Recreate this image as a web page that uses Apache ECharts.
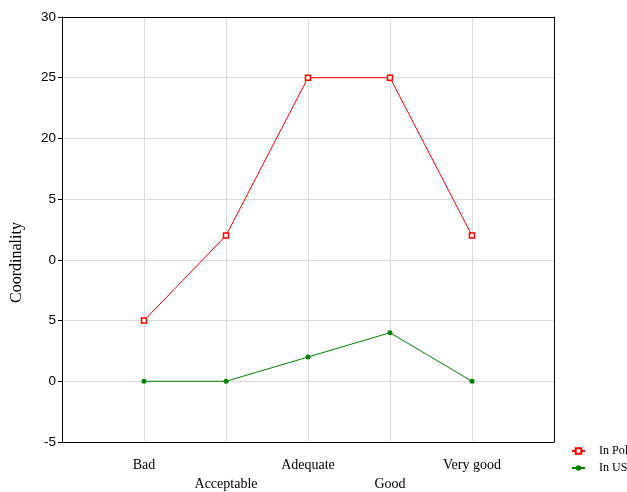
<!DOCTYPE html>
<html>
<head>
<meta charset="utf-8">
<script src="https://cdn.jsdelivr.net/npm/echarts@6/dist/echarts.min.js"></script>
<style>
  html, body { margin: 0; padding: 0; background: #fff; }
  #main { width: 627px; height: 492px; }
</style>
</head>
<body>
<div id="main"></div>
<script>
// categories along the x axis
const categories = ['Bad', 'Acceptable', 'Adequate', 'Good', 'Very good']
// series values
const polandValues = [5, 12, 25, 25, 12]
const usValues = [0, 0, 2, 4, 0]
// y tick labels as printed on the original (from -5 up to 30)
const yTickLabels = ['-5', '0', '5', '0', '5', '20', '25', '30']

const toPoints = vals => vals.map((v, i) => [i + 1, v])

let myChart = echarts.init(document.getElementById('main'))
myChart.setOption({
  animation: false,
  grid: {
    left: 62, top: 17, width: 492, height: 425,
    outerBoundsMode: 'none', containLabel: false,
    show: false
  },
  legend: {
    left: 566, top: 440, orient: 'vertical',
    itemWidth: 13, itemHeight: 7, itemGap: 5,
    textStyle: { fontFamily: 'Liberation Serif', fontSize: 12, color: '#000', padding: [0, 0, 0, 9] },
    data: ['In Poland', 'In USA']
  },
  xAxis: [{
    type: 'value', min: 0, max: 6, interval: 1,
    axisLine: { show: true, onZero: false, lineStyle: { color: '#000', width: 1 } },
    axisTick: { show: false },
    splitLine: { show: true, lineStyle: { color: '#dcdcdc', width: 1 } },
    axisLabel: {
      margin: 14,
      fontFamily: 'Liberation Serif', fontSize: 14, color: '#000', lineHeight: 19,
      formatter: v => {
        const name = categories[v - 1]
        if (!name) return ''
        return (v - 1) % 2 === 1 ? '\n' + name : name
      }
    }
  }, {
    type: 'value', min: 0, max: 6, position: 'top',
    axisLine: { show: true, onZero: false, lineStyle: { color: '#000', width: 1 } },
    axisTick: { show: false }, axisLabel: { show: false }, splitLine: { show: false }
  }],
  yAxis: [{
    type: 'value', min: -5, max: 30, interval: 5,
    name: 'Coordinality', nameLocation: 'middle', nameGap: 37,
    nameTextStyle: { fontFamily: 'Liberation Serif', fontSize: 16, color: '#000', padding: [0, 66, 0, 0] },
    axisLine: { show: true, onZero: false, lineStyle: { color: '#000', width: 1 } },
    axisTick: { show: true, length: 4, lineStyle: { color: '#000' } },
    splitLine: { show: true, lineStyle: { color: '#dcdcdc', width: 1 } },
    axisLabel: {
      margin: 6,
      fontFamily: 'Liberation Sans', fontSize: 13.5, color: '#000',
      formatter: v => yTickLabels[Math.round((v + 5) / 5)]
    }
  }, {
    type: 'value', min: -5, max: 30, position: 'right',
    axisLine: { show: true, onZero: false, lineStyle: { color: '#000', width: 1 } },
    axisTick: { show: false }, axisLabel: { show: false }, splitLine: { show: false }
  }],
  series: [
    {
      name: 'In Poland', type: 'line',
      data: toPoints(polandValues),
      symbol: 'rect', symbolSize: 5,
      lineStyle: { color: '#ff0000', width: 1 },
      itemStyle: { color: '#fff', borderColor: '#ff0000', borderWidth: 1.5 }
    },
    {
      name: 'In USA', type: 'line',
      data: toPoints(usValues),
      symbol: 'circle', symbolSize: 5,
      lineStyle: { color: '#008000', width: 1 },
      itemStyle: { color: '#008000' }
    }
  ]
})
</script>
</body>
</html>
